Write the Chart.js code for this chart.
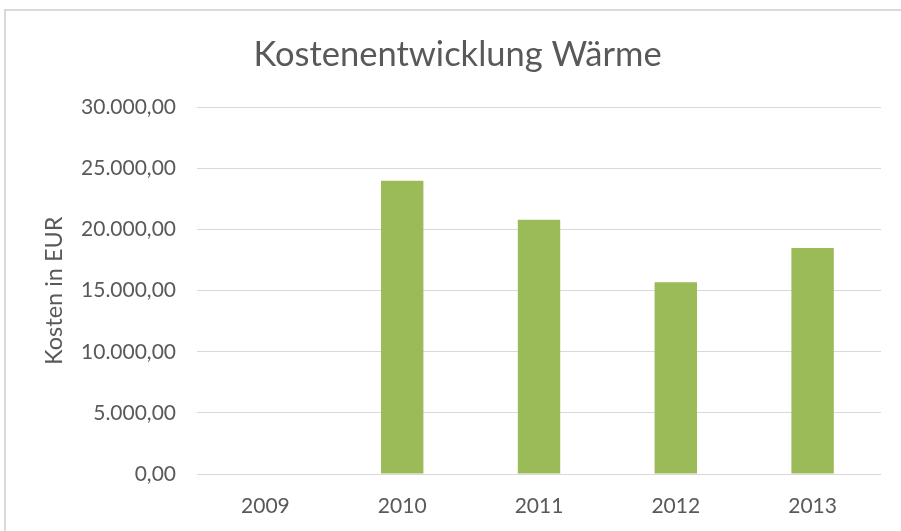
<!DOCTYPE html>
<html>
<head>
<meta charset="utf-8">
<script src="https://cdn.jsdelivr.net/npm/chart.js@4.4.0/dist/chart.umd.min.js"></script>
<style>
  html, body { margin: 0; padding: 0; background: #fff; }
  #wrap { position: relative; width: 901px; height: 531px; }
  #frame {
    position: absolute; left: 4px; top: 9px; right: -10px; bottom: -10px;
    border-top: 2px solid #d9d9d9; border-left: 2px solid #d9d9d9;
  }
  canvas { position: absolute; left: 0; top: 0; }
</style>
</head>
<body>
<div id="wrap">
  <div id="frame"></div>
  <canvas id="chart" width="901" height="531"></canvas>
</div>
<script>
const years = ["2009", "2010", "2011", "2012", "2013"];
const kosten = [0, 24000, 20800, 15700, 18500];

const fontName = "Lato, 'Open Sans', sans-serif";
const grey = "#595959";

// Zahlen wie 30.000,00
function formatEUR(v) {
  const parts = Number(v).toFixed(2).split(".");
  parts[0] = parts[0].replace(/\B(?=(\d{3})+(?!\d))/g, ".");
  return parts[0] + "," + parts[1];
}

const ctx = document.getElementById("chart");

new Chart(ctx, {
  type: "bar",
  data: {
    labels: years,
    datasets: [
      {
        label: "Kosten",
        data: kosten,
        backgroundColor: "#9bbb59",
        borderWidth: 0,
        barPercentage: 0.31,
        categoryPercentage: 1,
      },
    ],
  },
  options: {
    responsive: false,
    animation: false,
    layout: {
      padding: { left: 34, right: 20, top: 0, bottom: 0 },
    },
    plugins: {
      legend: { display: false },
      tooltip: { enabled: false },
      title: {
        display: true,
        text: "Kostenentwicklung Wärme",
        color: grey,
        font: { family: fontName, size: 34.5, weight: "normal" },
        padding: { top: 34, bottom: 32 },
      },
    },
    scales: {
      x: {
        grid: { display: false, drawTicks: false },
        border: { display: false },
        ticks: {
          color: grey,
          padding: 20,
          font: { family: fontName, size: 21 },
        },
        afterFit: (scale) => {
          scale.height = 57;
        },
      },
      y: {
        min: 0,
        max: 30000,
        grid: { color: "#d9d9d9", lineWidth: 1, drawTicks: false },
        border: { display: false },
        ticks: {
          stepSize: 5000,
          color: grey,
          padding: 21,
          font: { family: fontName, size: 21 },
          callback: (v) => formatEUR(v),
        },
        title: {
          display: true,
          text: "Kosten in EUR",
          color: grey,
          font: { family: fontName, size: 23.5 },
          padding: { top: 6, bottom: 0 },
        },
        afterFit: (scale) => {
          scale.width = 163;
        },
      },
    },
  },
});
</script>
</body>
</html>
